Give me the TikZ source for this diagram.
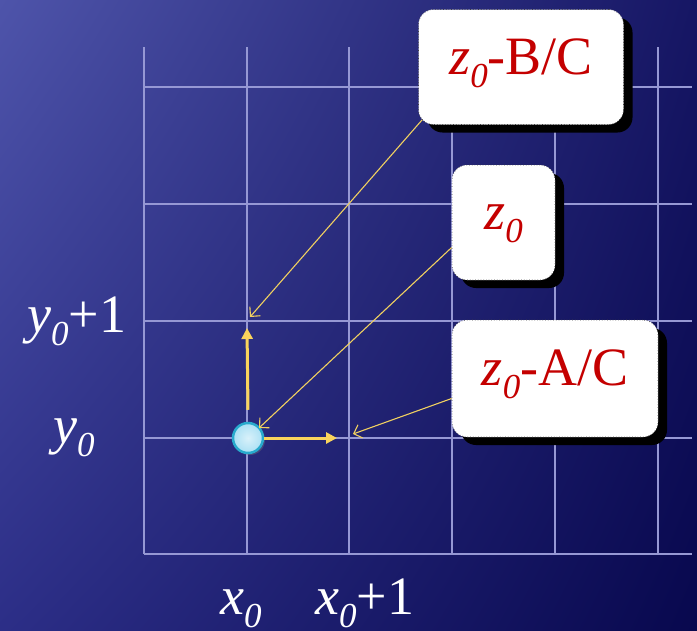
\documentclass[tikz,border=0pt]{standalone}
\usepackage{fontspec}
\setmainfont{Liberation Serif}
\usetikzlibrary{arrows.meta,shadows,shadings,calc}
\definecolor{gridc}{RGB}{150,152,212}
\definecolor{yel}{RGB}{250,212,92}
\definecolor{yelthin}{RGB}{240,208,96}
\definecolor{txtred}{RGB}{196,0,0}
\definecolor{dotfill}{RGB}{170,224,244}
\definecolor{dotedge}{RGB}{40,170,205}
\definecolor{bgUL}{RGB}{78,84,170}
\definecolor{bgUR}{RGB}{22,22,100}
\definecolor{bgLL}{RGB}{44,46,135}
\definecolor{bgLR}{RGB}{8,8,78}
\newcommand{\sbz}{\raisebox{-13pt}{\fontsize{35}{35}\selectfont\itshape 0}}
\begin{document}
\begin{tikzpicture}[x=1pt,y=-1pt,
  gridline/.style={draw=gridc, line width=1.3pt},
  callout/.style={draw=black!75, dotted, line width=0.7pt, fill=white,
    rounded corners=15pt, text=txtred, font=\fontsize{54}{54}\selectfont,
    inner sep=0pt, text height=30pt, text depth=16pt,
    drop shadow={shadow xshift=9pt, shadow yshift=-8pt, fill=black, draw=none, opacity=1}},
  axlabel/.style={text=white, font=\fontsize{54}{54}\selectfont, inner sep=0pt, anchor=base west},
  thickarrow/.style={draw=yel, line width=3pt, -{Triangle[length=11pt,width=11pt]}},
  pointer/.style={draw=yelthin, line width=1.1pt, -{Straight Barb[length=7pt,width=14pt]}}]
\useasboundingbox (0,0) rectangle (697,630);
\shade[upper left=bgUL, upper right=bgUR, lower left=bgLL, lower right=bgLR] (0pt,0pt) rectangle (697pt,-630pt);
% grid
\foreach \x in {144,247,349,452,555,658} \draw[gridline] (\x,47) -- (\x,554);
\foreach \y in {87,204,321,438,554} \draw[gridline] (144,\y) -- (692,\y);
% axis labels
\node[axlabel] (ly1) at (27,332) {{\itshape y}\sbz+1};
\node[axlabel] (ly0) at (53,443) {{\itshape y}\sbz};
\node[axlabel] (lx0) at (220,614) {{\itshape x}\sbz};
\node[axlabel] (lx1) at (315,614) {{\itshape x}\sbz+1};
% callouts
\node[callout, minimum width=205pt, minimum height=115pt] (bc) at (521,67) {{\itshape z}\sbz-B/C};
\node[callout, minimum width=103pt, minimum height=115pt] (zb) at (503.5,222.5) {{\itshape z}\sbz};
\node[callout, minimum width=206pt, minimum height=117pt] (ac) at (555,378.5) {{\itshape z}\sbz-A/C};
% point and unit arrows
\node[circle, minimum size=30pt, inner sep=0pt, draw=dotedge, line width=2.5pt,
  inner color=white!55!dotfill, outer color=dotfill,
  drop shadow={shadow xshift=2pt, shadow yshift=-2pt, opacity=0.35}] (dot) at (248,438) {};
\coordinate (xt) at (337,438);
\coordinate (yt) at (247,328);
\draw[thickarrow] (dot.east) -- (xt);
\draw[thickarrow] ([yshift=12pt]dot.north) -- (yt);
% pointers
\coordinate (p1) at (250,317);
\coordinate (p2) at (259,428);
\coordinate (p3) at (353,434);
\draw[pointer] ($(bc.south west)+(4,-5)$) -- (p1);
\draw[pointer] ($(zb.west)+(0,25)$) -- (p2);
\draw[pointer] ($(ac.west)+(0,20)$) -- (p3);
\end{tikzpicture}
\end{document}
